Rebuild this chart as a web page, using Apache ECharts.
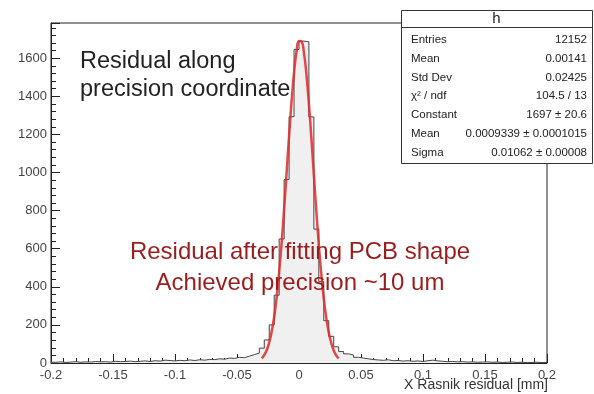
<!DOCTYPE html>
<html>
<head>
<meta charset="utf-8">
<script src="https://cdn.jsdelivr.net/npm/echarts@6/dist/echarts.min.js"></script>
<style>
html,body{margin:0;padding:0;background:#fff;}
#chart{width:594px;height:394px;}
</style>
</head>
<body>
<div id="chart"></div>
<script>
// Histogram "h": 100 bins of width 0.004 from -0.2 to 0.2
const binStart = -0.2;
const binWidth = 0.004;
const counts = [
  4, 6, 3, 5, 7, 4, 6, 5, 8, 6,
  7, 5, 9, 7, 8, 10, 7, 9, 11, 8,
  12, 10, 15, 13, 11, 14, 12, 16, 13, 17,
  15, 19, 18, 22, 20, 26, 24, 30, 28, 36,
  44, 52, 78, 121, 200, 356, 651, 963, 1293, 1646,
  1690, 1686, 1292, 703, 427, 222, 140, 85, 60, 48,
  42, 30, 26, 22, 18, 16, 14, 17, 12, 13,
  10, 12, 9, 11, 8, 12, 15, 11, 9, 7,
  8, 6, 7, 5, 6, 4, 5, 6, 4, 5,
  3, 4, 5, 3, 4, 2, 3, 4, 2, 3
];
// Gaussian fit curve
const fitX = [-0.030,-0.028,-0.026,-0.024,-0.022,-0.020,-0.018,-0.016,-0.014,-0.012,-0.010,-0.008,-0.006,-0.004,-0.002,0.000,
              0.002,0.004,0.006,0.008,0.010,0.012,0.014,0.016,0.018,0.020,0.022,0.024,0.026,0.028,0.030,0.032];
const fitY = [24,42,68,108,165,243,347,476,632,809,999,1192,1372,1524,1634,1691,
              1688,1628,1514,1360,1178,986,796,620,466,338,237,160,105,66,40,24];
// Stats box
const statTitle = 'h';
const statNames = ['Entries','Mean','Std Dev','χ² / ndf','Constant','Mean','Sigma'];
const statValues = ['12152','0.00141','0.02425','104.5 / 13','1697 ± 20.6','0.0009339 ± 0.0001015','0.01062 ± 0.00008'];
// Texts
const noteBlack = ['Residual along','precision coordinate'];
const noteRed = ['Residual after fitting PCB shape','Achieved precision ~10 um'];
const xTitle = 'X Rasnik residual [mm]';
const xRange = [-0.2, 0.2], xStep = 0.05;
const yRange = [0, 1785], yStep = 200;

const stepPts = [];
counts.forEach((c, k) => {
  const lo = binStart + k * binWidth, hi = lo + binWidth;
  stepPts.push([+lo.toFixed(4), c], [+hi.toFixed(4), c]);
});
const fitPts = fitX.map((x, i) => [x, fitY[i]]);

const FONT = '"Liberation Sans", Arial, Helvetica, sans-serif';
const chart = echarts.init(document.getElementById('chart'), null, {renderer: 'canvas'});

const boxL = 401, boxR = 592, boxT = 10, boxB = 163;
const rowY = [40, 59, 78, 96, 115, 134, 153];
const statGraphics = [
  {type:'rect', shape:{x:boxL+0.5, y:boxT+0.5, width:boxR-boxL, height:boxB-boxT}, style:{fill:'#fff', stroke:'#333', lineWidth:1}, z:100},
  {type:'line', shape:{x1:boxL, y1:27.5, x2:boxR, y2:27.5}, style:{stroke:'#333', lineWidth:1}, z:101},
  {type:'text', x:(boxL+boxR)/2, y:19, style:{text:statTitle, font:'15px '+FONT, fill:'#222', textAlign:'center', textVerticalAlign:'middle'}, z:101}
];
statNames.forEach((n, i) => {
  statGraphics.push({type:'text', x:411, y:rowY[i], style:{text:n, font:'11.5px '+FONT, fill:'#222', textAlign:'left', textVerticalAlign:'middle'}, z:101});
  statGraphics.push({type:'text', x:587, y:rowY[i], style:{text:statValues[i], font:'11.5px '+FONT, fill:'#222', textAlign:'right', textVerticalAlign:'middle'}, z:101});
});

const option = {
  animation: false,
  backgroundColor: '#fff',
  grid: {left: 51, right: 47, top: 23, bottom: 31, show: true, borderColor: '#222', borderWidth: 1, backgroundColor: 'transparent'},
  xAxis: {
    type: 'value', min: xRange[0], max: xRange[1], interval: xStep,
    axisLine: {onZero: false, lineStyle: {color: '#222', width: 1}},
    axisTick: {inside: true, length: 9, lineStyle: {color: '#222'}},
    minorTick: {show: true, splitNumber: 5, length: 5, lineStyle: {color: '#222'}},
    splitLine: {show: false},
    axisLabel: {color: '#444', fontSize: 13, fontFamily: FONT, margin: 6}
  },
  yAxis: {
    type: 'value', min: yRange[0], max: yRange[1], interval: yStep,
    axisLine: {show: true, onZero: false, lineStyle: {color: '#222', width: 1}},
    axisTick: {inside: true, length: 9, lineStyle: {color: '#222'}},
    minorTick: {show: true, splitNumber: 5, length: 5, lineStyle: {color: '#222'}},
    splitLine: {show: false},
    axisLabel: {color: '#444', fontSize: 13, fontFamily: FONT, margin: 4, showMaxLabel: false,
                formatter: v => String(v)}
  },
  series: [
    {
      type: 'line', data: stepPts, symbol: 'none', z: 2,
      lineStyle: {color: '#444', width: 1},
      areaStyle: {color: '#f0f0f0', opacity: 1, origin: 'start'}
    },
    {
      type: 'line', data: fitPts, symbol: 'none', smooth: true, z: 3,
      lineStyle: {color: 'rgba(225,40,40,0.85)', width: 2.5}
    }
  ],
  graphic: [
    {type:'text', x:80, y:62, style:{text:noteBlack[0], font:'23.5px '+FONT, fill:'#222', textVerticalAlign:'middle'}, z:50},
    {type:'text', x:80, y:90, style:{text:noteBlack[1], font:'23.5px '+FONT, fill:'#222', textVerticalAlign:'middle'}, z:50},
    {type:'text', x:300, y:252, style:{text:noteRed[0], font:'24px '+FONT, fill:'#9b1c1c', textAlign:'center', textVerticalAlign:'middle'}, z:50},
    {type:'text', x:300, y:283, style:{text:noteRed[1], font:'24px '+FONT, fill:'#9b1c1c', textAlign:'center', textVerticalAlign:'middle'}, z:50},
    {type:'text', x:548, y:385, style:{text:xTitle, font:'14px '+FONT, fill:'#333', textAlign:'right', textVerticalAlign:'middle'}, z:50}
  ].concat(statGraphics)
};
chart.setOption(option);
</script>
</body>
</html>
